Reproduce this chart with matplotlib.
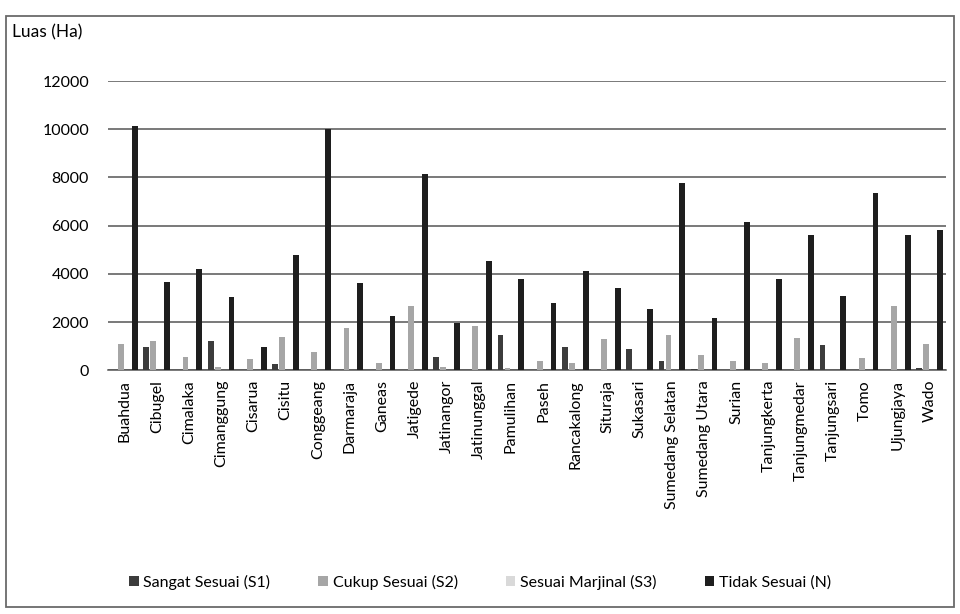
import numpy as np
import matplotlib.pyplot as plt
from matplotlib.patches import Rectangle

plt.rcParams['font.family'] = ['Lato', 'DejaVu Sans']

# --- Data: land suitability area (Ha) per kecamatan ---
kecamatan = ["Buahdua", "Cibugel", "Cimalaka", "Cimanggung", "Cisarua", "Cisitu",
             "Conggeang", "Darmaraja", "Ganeas", "Jatigede", "Jatinangor",
             "Jatinunggal", "Pamulihan", "Paseh", "Rancakalong", "Situraja",
             "Sukasari", "Sumedang Selatan", "Sumedang Utara", "Surian",
             "Tanjungkerta", "Tanjungmedar", "Tanjungsari", "Tomo", "Ujungjaya", "Wado"]

s1 = [0, 950, 0, 1200, 0, 250, 0, 0, 0, 0, 550, 0, 1450, 0, 950, 30, 900, 400,
      50, 0, 0, 0, 1050, 0, 0, 80]
s2 = [1100, 1200, 550, 150, 450, 1400, 750, 1750, 300, 2650, 150, 1850, 100, 400,
      300, 1300, 0, 1450, 650, 400, 300, 1350, 0, 500, 2650, 1100]
s3 = [0] * 26
n = [10150, 3650, 4200, 3050, 950, 4800, 10000, 3600, 2250, 8150, 1950, 4550,
     3800, 2800, 4100, 3400, 2550, 7750, 2150, 6150, 3800, 5600, 3100, 7350,
     5600, 5800]

series = [("Sangat Sesuai (S1)", s1, "#3c3c3c"),
          ("Cukup Sesuai (S2)", s2, "#a6a6a6"),
          ("Sesuai Marjinal (S3)", s3, "#d9d9d9"),
          ("Tidak Sesuai (N)", n, "#1e1e1e")]

fig = plt.figure(figsize=(9.6, 6.14), dpi=100)
ax = fig.add_axes([0.113, 0.397, 0.872, 0.471])

x = np.arange(len(kecamatan))
step = 0.215
for i, (label, vals, color) in enumerate(series):
    ax.bar(x + (i - 1.5) * step, vals, width=0.18, color=color, label=label, zorder=3)

ax.set_xlim(-0.5, len(kecamatan) - 0.5)
ax.set_ylim(0, 12000)
ax.set_yticks(range(0, 12001, 2000))
ax.yaxis.grid(True, color="#555555", linewidth=1.1, zorder=0)
ax.set_axisbelow(True)
for side in ["top", "right", "left"]:
    ax.spines[side].set_visible(False)
ax.spines["bottom"].set_color("#555555")
ax.spines["bottom"].set_linewidth(1.1)
ax.tick_params(axis="y", length=0, pad=14, labelsize=11.5)
ax.tick_params(axis="x", length=0, pad=7, labelsize=11.5)
ax.set_xticks(x)
ax.set_xticklabels(kecamatan, rotation=90)

fig.text(0.013, 0.948, "Luas (Ha)", fontsize=12.5, va="center", ha="left")

leg = fig.legend(loc="center", bbox_to_anchor=(0.5, 0.052), ncol=4, frameon=False,
                 fontsize=11.5, handlelength=0.6, handleheight=0.6,
                 handletextpad=0.3, columnspacing=3.0)

# outer chart frame
fig.patches.append(Rectangle((0.006, 0.012), 0.988, 0.962, transform=fig.transFigure,
                             fill=False, edgecolor="#6a6a6a", linewidth=1.3))

fig.savefig("out.png", dpi=100)
